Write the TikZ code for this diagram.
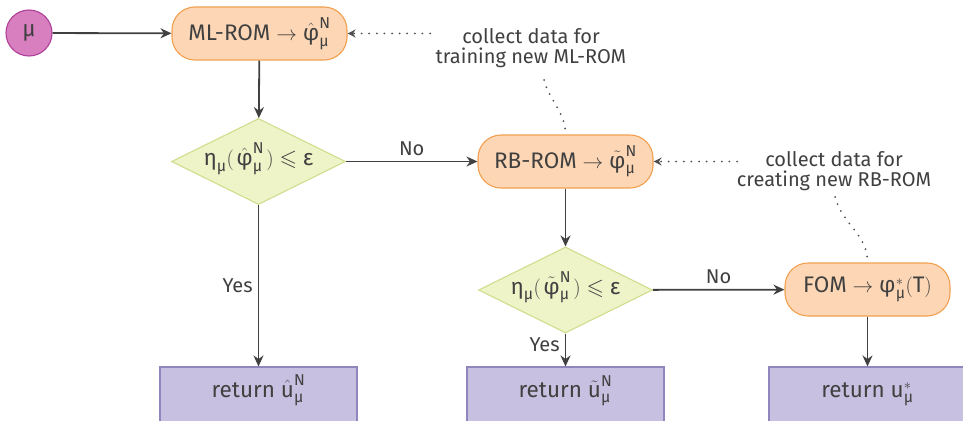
\documentclass[tikz,border=0pt]{standalone}
\usepackage{amsmath}
\usepackage{amssymb}
\usepackage[no-math]{fontspec}
\setmainfont{Fira Sans}
\usetikzlibrary{shapes.geometric,arrows.meta}

% upright symbols set in the text face
\newcommand{\gmu}{\text{μ}}
\newcommand{\geta}{\text{η}}
\newcommand{\gphi}{\text{φ}}
\newcommand{\geps}{\text{ε}}
\newcommand{\rN}{\text{N}}
\newcommand{\rT}{\text{T}}
\newcommand{\ru}{\text{u}}
\newcommand{\lp}{\mathopen{(}\mkern2mu}
\newcommand{\rp}{\mkern2mu\mathclose{)}}

\definecolor{ink}{HTML}{404040}
\definecolor{wire}{HTML}{404040}
\definecolor{startfill}{HTML}{D77FBF}
\definecolor{startline}{HTML}{B0409A}
\definecolor{romfill}{HTML}{FDD7B5}
\definecolor{romline}{HTML}{F2A050}
\definecolor{checkfill}{HTML}{EEF4C8}
\definecolor{checkline}{HTML}{CFDE8C}
\definecolor{retfill}{HTML}{C7C0E0}
\definecolor{retline}{HTML}{8F86BD}
\definecolor{hintcol}{HTML}{505050}

\tikzset{
  startnode/.style={circle, draw=startline, fill=startfill, line width=1.1pt,
    minimum size=46pt, inner sep=0pt},
  rombox/.style={rectangle, rounded corners=23pt, draw=romline, fill=romfill,
    line width=1.1pt, minimum width=175pt, minimum height=53pt, inner sep=0pt},
  check/.style={diamond, draw=checkline, fill=checkfill, line width=1.1pt,
    minimum width=174pt, minimum height=86pt, inner sep=0pt, aspect=2,
    text height=10pt, text depth=2pt},
  retbox/.style={rectangle, draw=retline, fill=retfill, line width=1.1pt,
    minimum width=197pt, minimum height=70pt, inner sep=0pt,
    text height=15pt, text depth=25pt},
  flow/.style={draw=wire, line width=1.8pt,
    -{Stealth[length=11pt,width=10pt]}},
  hint/.style={draw=hintcol, line width=2pt, line cap=round,
    dash pattern=on 0pt off 7.6pt},
  hinttip/.style={hint, -{Stealth[length=8pt,width=8pt,line cap=butt]}},
  note/.style={align=center, font=\fontsize{20}{20.5}\selectfont, inner sep=0pt},
  tag/.style={font=\fontsize{20}{22}\selectfont, inner sep=5pt}
}

\begin{document}
\begin{tikzpicture}[x=1pt, y=-1pt, font=\fontsize{22.5}{25}\selectfont, text=ink]
\useasboundingbox (0,0) rectangle (963,420);
\clip (0,0) rectangle (963,420);

% main flow nodes
\node[startnode] (mu) at (29,33) {$\gmu$};
\node[rombox] (ml) at (259.5,33.5) {ML-ROM $\to \hat{\gphi}_{\gmu}^{\rN}$};
\node[check] (d1) at (258.5,161.5) {$\geta_{\gmu}\lp\hat{\gphi}_{\gmu}^{\rN}\rp \leqslant \geps$};
\node[rombox] (rb) at (565.5,161.5) {RB-ROM $\to \tilde{\gphi}_{\gmu}^{\rN}$};
\node[check] (d2) at (565.5,290) {$\geta_{\gmu}\lp\tilde{\gphi}_{\gmu}^{\rN}\rp \leqslant \geps$};
\node[rombox, minimum width=165pt] (fom) at (867.5,289.5) {FOM $\to \gphi_{\gmu}^{*}(\rT)$};

% result boxes (run past the lower edge)
\node[retbox] (r1) at (258.5,402) {return $\hat{\ru}_{\gmu}^{\rN}$};
\node[retbox] (r2) at (565.5,402) {return $\tilde{\ru}_{\gmu}^{\rN}$};
\node[retbox] (r3) at (867.5,402) {return $\ru_{\gmu}^{*}$};

% annotations
\node[note] (n1) at (531,48) {collect data for\\training new ML-ROM};
\node[note] (n2) at (834,171) {collect data for\\creating new RB-ROM};
\coordinate (c1) at (430,33.5);
\coordinate (c2) at (544,80);
\coordinate (c3) at (737,161.5);
\coordinate (c4) at (835,197);

% connectors
\draw[flow] (mu) -- (ml);
\draw[flow] (ml) -- (d1);
\draw[flow] (d1) -- node[tag, above] {No} (rb);
\draw[flow] (d1) -- node[tag, left] {Yes} (r1);
\draw[flow] (rb) -- (d2);
\draw[flow] (d2) -- node[tag, above] {No} (fom);
\draw[flow] (d2) -- node[tag, left, pos=0.35] {Yes} (r2);
\draw[flow] (fom) -- (r3);

% feedback hints
\draw[hinttip] (c1) -- (ml.east);
\draw[hint] (c2) to[out=-75, in=90] (rb.north);
\draw[hinttip] (c3) -- (rb.east);
\draw[hint] (c4) to[out=-75, in=90] (fom.north);
\end{tikzpicture}
\end{document}
